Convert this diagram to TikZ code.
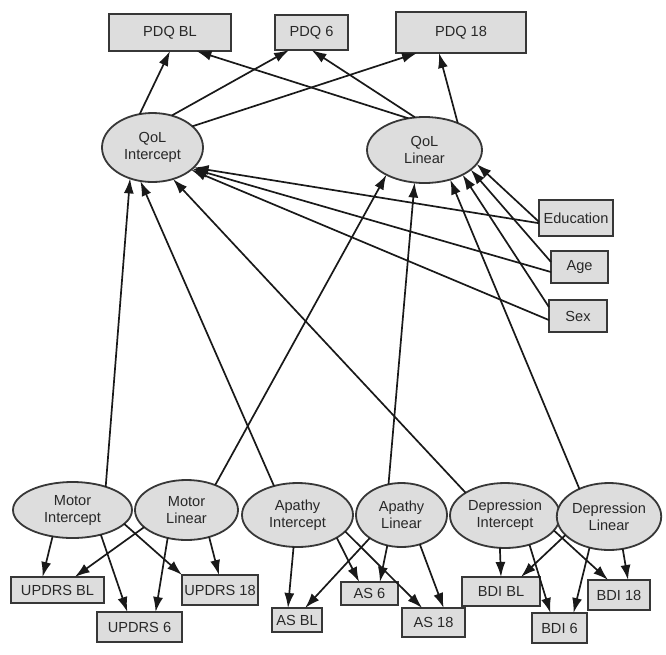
\documentclass[tikz,border=0pt]{standalone}
\usepackage{fontspec}
\setmainfont{Liberation Sans}
\usetikzlibrary{shapes.geometric,arrows.meta}
\definecolor{nodefill}{RGB}{221,221,221}
\definecolor{nodeline}{RGB}{55,55,55}
\definecolor{txt}{RGB}{40,40,40}
\tikzset{
  base/.style={draw=nodeline, line width=1.8pt, fill=nodefill, inner sep=0pt, outer sep=0pt,
    font=\fontsize{14.6}{17}\selectfont, text=txt, align=center},
  boxnode/.style={base, rectangle},
  ellnode/.style={base, ellipse},
  arr/.style={-{Latex[length=15pt,width=10pt]}, line width=1.7pt, draw=black!90},
}
\begin{document}
\begin{tikzpicture}[x=1pt,y=-1pt]
\useasboundingbox (0,0) rectangle (666,654);
% top boxes
\node[boxnode, minimum width=122, minimum height=37] (pdqbl) at (170,32.5) {PDQ BL};
\node[boxnode, minimum width=73, minimum height=35] (pdq6) at (311.5,32.5) {PDQ 6};
\node[boxnode, minimum width=130, minimum height=41] (pdq18) at (461,32.5) {PDQ 18};
% QoL
\node[ellnode, minimum width=101, minimum height=69] (qli) at (152.5,147.5) {QoL\\Intercept};
\node[ellnode, minimum width=115, minimum height=66] (qll) at (424.5,150) {QoL\\Linear};
% covariates
\node[boxnode, minimum width=74, minimum height=36] (edu) at (576,218) {Education};
\node[boxnode, minimum width=57, minimum height=32] (age) at (579.5,267) {Age};
\node[boxnode, minimum width=58, minimum height=32] (sex) at (578,316) {Sex};
% bottom latent
\node[ellnode, minimum width=119, minimum height=56] (mi) at (72.5,510) {Motor\\Intercept};
\node[ellnode, minimum width=103, minimum height=60] (ml) at (186.5,510) {Motor\\Linear};
\node[ellnode, minimum width=111, minimum height=64] (api) at (297.5,515) {Apathy\\Intercept};
\node[ellnode, minimum width=91, minimum height=64] (apl) at (401.5,515) {Apathy\\Linear};
\node[ellnode, minimum width=110, minimum height=65] (depi) at (505,515.5) {Depression\\Intercept};
\node[ellnode, minimum width=92, minimum height=67] (depl) at (609,516.5) {Depression\\Linear};
% bottom boxes
\node[boxnode, minimum width=93, minimum height=26] (updrsbl) at (57.5,590) {UPDRS BL};
\node[boxnode, minimum width=85, minimum height=30] (updrs6) at (139.5,627) {UPDRS 6};
\node[boxnode, minimum width=76, minimum height=30] (updrs18) at (220,590) {UPDRS 18};
\node[boxnode, minimum width=50, minimum height=24] (asbl) at (297,620) {AS BL};
\node[boxnode, minimum width=57, minimum height=23] (as6) at (369.5,593.5) {AS 6};
\node[boxnode, minimum width=63, minimum height=29] (as18) at (433.5,622.5) {AS 18};
\node[boxnode, minimum width=78, minimum height=29] (bdibl) at (501,591.5) {BDI BL};
\node[boxnode, minimum width=55, minimum height=30] (bdi6) at (559.5,628) {BDI 6};
\node[boxnode, minimum width=62, minimum height=30] (bdi18) at (619,595) {BDI 18};
% QoL -> PDQ
\draw[arr] (qli.111) -- (pdqbl.-90);
\draw[arr] (qli.59) -- (pdq6.-142);
\draw[arr] (qli.28) -- (pdq18.-155);
\draw[arr] (qll.117) -- (pdqbl.-35);
\draw[arr] (qll.106) -- (pdq6.-90);
\draw[arr] (qll.39) -- (pdq18.-137);
% covariates -> QoL
\draw[arr] (edu.188) -- (qli.-26);
\draw[arr] (edu.186) -- (qll.-15);
\draw[arr] (age.190) -- (qli.-28);
\draw[arr] (age.170) -- (qll.-23);
\draw[arr] (sex.188) -- (qli.-30);
\draw[arr] (sex.163) -- (qll.-33);
% latent -> QoL
\draw[arr] (mi.35) -- (qli.-126);
\draw[arr] (ml.41) -- (qll.213);
\draw[arr] (api.129) -- (qli.-110);
\draw[arr] (apl.113) -- (qll.-107);
\draw[arr] (depi.150) -- (qli.-57);
\draw[arr] (depl.137) -- (qll.-49);
% motor
\draw[arr] (mi.-127) -- (updrsbl.139);
\draw[arr] (mi.-41) -- (updrs6.129);
\draw[arr] (mi.-15) -- (updrs18.north west);
\draw[arr] (ml.202) -- (updrsbl.37);
\draw[arr] (ml.-124) -- (updrs6.43);
\draw[arr] (ml.-50) -- (updrs18.94);
% apathy
\draw[arr] (api.-97) -- (asbl.127);
\draw[arr] (api.-30) -- (as6.132);
\draw[arr] (api.-19) -- (as18.128);
\draw[arr] (apl.-144) -- (asbl.56);
\draw[arr] (apl.-115) -- (as6.48);
\draw[arr] (apl.-58) -- (as18.55);
% depression
\draw[arr] (depi.-99) -- (bdibl.north);
\draw[arr] (depi.-50) -- (bdi6.121);
\draw[arr] (depi.-17) -- (bdi18.126);
\draw[arr] (depl.-157) -- (bdibl.36);
\draw[arr] (depl.-122) -- (bdi6.47);
\draw[arr] (depl.-67) -- (bdi18.59);
\end{tikzpicture}
\end{document}
